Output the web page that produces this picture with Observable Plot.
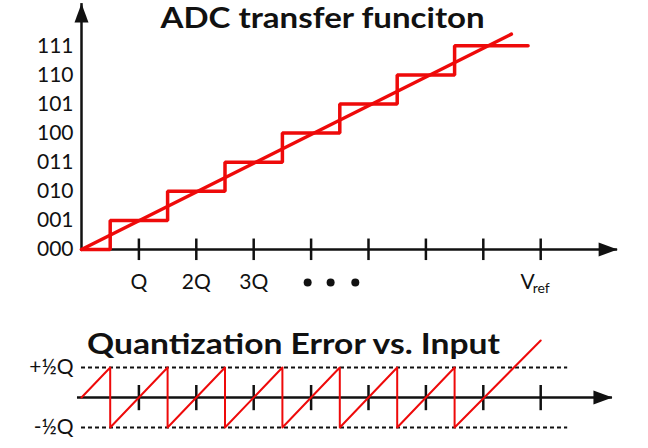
<!DOCTYPE html>
<html>
<head>
<meta charset="utf-8">
<script src="https://cdn.jsdelivr.net/npm/d3@7"></script>
<script src="https://cdn.jsdelivr.net/npm/@observablehq/plot@0.6"></script>
<style>
  html, body { margin: 0; padding: 0; background: #fff; }
  #wrap { position: relative; width: 648px; height: 448px; overflow: hidden; background: #fff; }
  #top, #bottom { position: absolute; left: 0; }
  #top { top: 0; }
  #bottom { top: 300px; }
  .title { position: absolute; font-family: Lato, "Open Sans", sans-serif; font-weight: 700; line-height: 1; white-space: nowrap; color: #111; z-index: 5; font-size: 28px; }
  #t1 { top: 3px; left: 0; width: 645px; text-align: center; transform: scaleX(1.18); transform-origin: 322px 0; }
  #t2 { top: 329px; left: 87px; transform: scaleX(1.2); transform-origin: 0 0; }
</style>
</head>
<body>
<div id="wrap">
  <div id="top"></div>
  <div id="bottom"></div>
  <div class="title" id="t1">ADC transfer funciton</div>
  <div class="title" id="t2">Quantization Error vs. Input</div>
</div>
<script>
// ---------- data ----------
const codeLabels = ["000", "001", "010", "011", "100", "101", "110", "111"];
const codeValues = [0, 1, 2, 3, 4, 5, 6, 7];
const tickQ = [1, 2, 3, 4, 5, 6, 7, 8];
const xLabelText = ["Q", "2Q", "3Q"];
const xLabelQ = [1, 2, 3];
const ellipsisQ = [3.94, 4.34, 4.77];
const vrefQ = 8;
// staircase (transfer function): input (in Q) where code steps, output code
const stairX = [0, 0.5, 1.5, 2.5, 3.5, 4.5, 5.5, 6.5, 7.78];
const stairY = [0, 1, 2, 3, 4, 5, 6, 7, 7];
// ideal straight line
const idealX = [0, 7.49];
const idealY = [0, 7.4];
// quantization error sawtooth (in Q)
const errX = [0, 0.5, 0.5, 1.5, 1.5, 2.5, 2.5, 3.5, 3.5, 4.5, 4.5, 5.5, 5.5, 6.5, 6.5, 8.0];
const errY = [0, 0.5, -0.5, 0.5, -0.5, 0.5, -0.5, 0.5, -0.5, 0.5, -0.5, 0.5, -0.5, 0.5, -0.5, 0.95];
const errLevels = [0.5, -0.5];
const errLevelLabels = ["+½Q", "-½Q"];
// axis extents (data units)
const topXAxisEnd = 9.34, topYAxisEnd = 8.45;
const botXAxisStart = -0.07, botXAxisEnd = 9.25, dashEnd = 8.47;

const RED = "#ee0a0a";
const FONT = "Lato, 'Open Sans', sans-serif";
const arrowHead = {
  draw(ctx) {
    ctx.moveTo(0, 0);
    ctx.lineTo(-7, 19);
    ctx.lineTo(7, 19);
    ctx.closePath();
  }
};

const stairs = stairX.map((x, i) => ({x, y: stairY[i]}));
const ideal = idealX.map((x, i) => ({x, y: idealY[i]}));
const err = errX.map((x, i) => ({x, y: errY[i]}));

const topPlot = Plot.plot({
  width: 648, height: 300, margin: 0,
  style: {background: "transparent"},
  x: {domain: [0, 8], range: [81, 540.2], axis: null},
  y: {domain: [0, 7], range: [249, 45.3], axis: null},
  marks: [
    Plot.ruleY([0], {x1: 0, x2: topXAxisEnd, stroke: "#111", strokeWidth: 2.5}),
    Plot.ruleX([0], {y1: 0, y2: topYAxisEnd, stroke: "#111", strokeWidth: 2.5}),
    Plot.dot([{x: topXAxisEnd, y: 0, r: 90}, {x: 0, y: topYAxisEnd, r: 0}],
      {x: "x", y: "y", rotate: "r", symbol: arrowHead, fill: "#111", stroke: "none"}),
    Plot.ruleX(tickQ, {x: d => d, y1: -0.38, y2: 0.36, stroke: "#111", strokeWidth: 2.5}),
    Plot.text(codeLabels, {x: 0, y: (d, i) => codeValues[i], text: d => d, textAnchor: "end", dx: -8,
      fontSize: 21, fontFamily: FONT, fill: "#111"}),
    Plot.text(xLabelText, {x: (d, i) => xLabelQ[i], y: 0, text: d => d, dy: 33, fontSize: 21, fontFamily: FONT, fill: "#111"}),
    Plot.dot(ellipsisQ, {x: d => d, y: 0, dy: 33, r: 4, fill: "#111", stroke: "none"}),
    Plot.text(["V"], {x: vrefQ, y: 0, text: d => d, dy: 33, dx: -6, textAnchor: "end", fontSize: 21, fontFamily: FONT, fill: "#111"}),
    Plot.text(["ref"], {x: vrefQ, y: 0, text: d => d, dy: 39, dx: -8, textAnchor: "start", fontSize: 14, fontFamily: FONT, fill: "#111"}),
    Plot.line(stairs, {x: "x", y: "y", curve: "step-after", stroke: RED, strokeWidth: 3.5, strokeLinejoin: "miter"}),
    Plot.line(ideal, {x: "x", y: "y", stroke: RED, strokeWidth: 3.5})
  ]
});
document.getElementById("top").appendChild(topPlot);

const botPlot = Plot.plot({
  width: 648, height: 148, margin: 0,
  style: {background: "transparent"},
  x: {domain: [0, 8], range: [81, 540.2], axis: null},
  y: {domain: [-0.5, 0.5], range: [127, 67], axis: null},
  marks: [
    Plot.ruleY(errLevels, {y: d => d, x1: 0, x2: dashEnd, stroke: "#111", strokeWidth: 2, strokeDasharray: "4,3"}),
    Plot.ruleY([0], {x1: botXAxisStart, x2: botXAxisEnd, stroke: "#111", strokeWidth: 2.5}),
    Plot.dot([{x: botXAxisEnd, y: 0, r: 90}], {x: "x", y: "y", rotate: "r", symbol: arrowHead, fill: "#111", stroke: "none"}),
    Plot.ruleX(tickQ, {x: d => d, y1: -0.22, y2: 0.2, stroke: "#111", strokeWidth: 2.5}),
    Plot.text(errLevelLabels, {x: 0, y: (d, i) => errLevels[i], text: d => d, textAnchor: "end", dx: -8,
      fontSize: 21, fontFamily: FONT, fill: "#111"}),
    Plot.line(err, {x: "x", y: "y", stroke: RED, strokeWidth: 2})
  ]
});
document.getElementById("bottom").appendChild(botPlot);
</script>
</body>
</html>
